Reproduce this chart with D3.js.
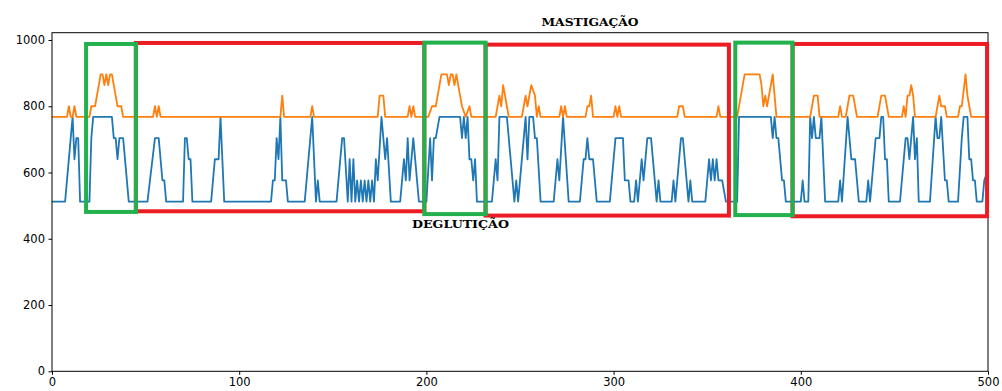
<!DOCTYPE html>
<html><head><meta charset="utf-8">
<script src="https://cdn.jsdelivr.net/npm/d3@7"></script>
<style>
html,body{margin:0;padding:0;background:#fff;}
svg{display:block;}
</style></head>
<body>
<svg id="chart" width="1002" height="391"></svg>
<script>
// Sensor channels: [sample index, level] at every change of slope
const channel1 = [
  [0,512],[7,512],[11,768],[12,640],[13,704],[14,704],[15,512],
  [20,512],[21,704],[22,768],[32,768],[33,704],[34,704],[35,640],[36,704],[38,704],[41,512],
  [51,512],[55,704],[57,704],[59,576],[60,576],[61,512],
  [70,512],[71,704],[72,704],[73,640],[74,640],[75,512],
  [85,512],[87,640],[89,640],[90,768],[92,512],
  [117,512],[118,576],[119,576],[120,704],[121,640],[122,768],[123,576],[125,576],[126,512],
  [135,512],[139,768],[141,512],[142,576],[143,512],
  [152,512],[155,704],[156,704],[158,512],[159,640],[160,512],[161,640],[162,512],[163,576],[164,512],
  [165,576],[166,512],[167,576],[168,512],[169,576],[170,512],[171,576],[172,512],[173,640],[174,576],
  [176,768],[178,640],[179,704],[181,512],
  [186,512],[188,640],[189,576],[190,704],[191,576],[193,704],[196,512],
  [200,512],[202,704],[203,576],[204,704],[205,704],[207,768],[218,768],[219,704],[220,768],[221,704],
  [222,768],[223,640],[224,640],[225,576],[226,640],[227,512],
  [235,512],[237,640],[238,576],[239,768],[243,768],[244,704],[247,512],[248,576],[249,512],
  [252,704],[253,768],[254,640],[255,768],[257,768],[258,704],[259,704],[261,512],
  [268,512],[270,640],[271,576],[273,768],[276,512],
  [282,512],[284,640],[285,640],[286,704],[287,640],[289,640],[291,512],
  [298,512],[301,704],[305,704],[306,576],[308,576],[309,512],[311,512],[312,576],[313,512],
  [315,640],[316,576],[318,704],[320,704],[321,640],[322,576],[323,512],[324,576],[325,512],
  [331,512],[332,576],[333,512],[336,704],[337,704],[338,640],[339,576],[340,512],[341,576],[342,512],
  [349,512],[351,640],[352,576],[353,640],[354,576],[355,640],[356,576],[358,576],[360,512],
  [366,512],[367,768],[384,768],[385,704],[386,768],[387,704],[388,704],[390,576],[391,576],[392,512],
  [400,512],[401,576],[402,512],[404,512],[405,768],[406,704],[407,768],[408,704],[410,704],[411,768],
  [412,640],[413,512],
  [420,512],[421,576],[422,512],[425,768],[426,704],[427,640],[429,640],[430,576],[431,512],
  [435,512],[436,576],[437,512],[439,640],[440,704],[442,704],[443,768],[444,768],[445,640],[446,640],[447,512],
  [453,512],[456,704],[457,704],[458,640],[460,768],[461,640],[462,704],[463,512],
  [469,512],[472,768],[473,704],[474,704],[475,768],[477,576],[478,576],[479,512],
  [484,512],[486,704],[487,768],[489,768],[490,640],[491,640],[492,576],[493,576],[494,512],
  [497,512],[498,576],[500,608]
];

const channel2 = [
  [0,768],[8,768],[9,800],[10,768],[11,768],[12,800],[13,768],
  [20,768],[21,800],[23,800],[24,832],[25,864],[26,896],[27,896],[28,864],[29,896],[30,864],
  [31,896],[32,896],[33,864],[34,832],[35,800],[37,800],[38,768],
  [54,768],[55,800],[56,768],[57,800],[58,768],
  [122,768],[123,832],[124,768],
  [138,768],[139,800],[140,768],
  [174,768],[175,832],[177,832],[178,768],
  [190,768],[191,800],[192,768],[193,800],[194,768],
  [201,768],[203,800],[205,800],[206,832],[207,864],[208,896],[211,896],[212,864],[213,896],[214,896],
  [215,864],[216,896],[217,864],[218,832],[219,800],[221,768],[223,800],[224,768],
  [237,768],[239,832],[240,800],[241,864],[242,832],[243,800],[244,768],
  [251,768],[252,800],[253,832],[254,800],[256,864],[258,832],[259,768],[260,800],[261,768],
  [271,768],[272,800],[273,768],[274,800],[275,768],
  [285,768],[286,800],[287,800],[288,832],[289,768],
  [300,768],[301,800],[302,768],[303,800],[304,768],
  [334,768],[335,800],[337,800],[338,768],
  [355,768],[356,800],[357,768],
  [366,768],[370,896],[378,896],[379,864],[380,800],[381,832],[382,800],[385,896],[387,768],
  [405,768],[406,800],[407,832],[409,832],[410,768],
  [420,768],[421,800],[422,768],
  [424,768],[425,800],[426,832],[428,832],[430,768],
  [441,768],[443,832],[445,832],[447,768],
  [454,768],[455,800],[456,768],[457,832],[458,832],[459,864],[460,832],[461,768],
  [472,768],[474,832],[475,800],[477,800],[478,768],
  [484,768],[485,800],[486,800],[488,896],[489,832],[490,800],[491,768],
  [500,768]
];

const xTicks = [0, 100, 200, 300, 400, 500];
const yTicks = [0, 200, 400, 600, 800, 1000];

// Marked phases: [start, end, low, high] in sample / level units
const chewPhases = [[44.8, 198.9, 483, 991], [231.6, 361.6, 470, 986], [395.6, 499.5, 468, 988]];
const swallowPhases = [[18.2, 44.8, 481, 988], [198.9, 231.6, 474.5, 992], [365, 395.6, 471.5, 992]];

const phaseLabels = [
  { text: "MASTIGAÇÃO", x: 261.5, y: 1043 },
  { text: "DEGLUTIÇÃO", x: 192.3, y: 434 }
];

const svg = d3.select("#chart");
svg.append("rect").attr("width", 1002).attr("height", 391).attr("fill", "#fff");

const x = d3.scaleLinear().domain([0, 500]).range([52, 988]);
const y = d3.scaleLinear().domain([0, 1022]).range([371.3, 32.7]);

const line = d3.line().x(d => x(d[0])).y(d => y(d[1]));

svg.append("path").datum(channel1)
  .attr("d", line).attr("fill", "none").attr("stroke", "#1f77b4")
  .attr("stroke-width", 1.8).attr("stroke-linejoin", "round");
svg.append("path").datum(channel2)
  .attr("d", line).attr("fill", "none").attr("stroke", "#ff7f0e")
  .attr("stroke-width", 1.8).attr("stroke-linejoin", "round");

// frame
svg.append("rect")
  .attr("x", x(0)).attr("y", y(1022))
  .attr("width", x(500) - x(0)).attr("height", y(0) - y(1022))
  .attr("fill", "none").attr("stroke", "#000").attr("stroke-width", 1);

// phase boxes
function boxes(data, color) {
  svg.append("g").selectAll("rect").data(data).join("rect")
    .attr("x", d => x(d[0])).attr("y", d => y(d[3]))
    .attr("width", d => x(d[1]) - x(d[0]))
    .attr("height", d => y(d[2]) - y(d[3]))
    .attr("fill", "none").attr("stroke", color).attr("stroke-width", 4);
}
boxes(chewPhases, "#ed1c24");
boxes(swallowPhases, "#22b14c");

// axes
const xAxis = d3.axisBottom(x).tickValues(xTicks).tickFormat(d3.format("d"))
  .tickSize(3.5).tickPadding(3.5).tickSizeOuter(0);
const yAxis = d3.axisLeft(y).tickValues(yTicks).tickFormat(d3.format("d"))
  .tickSize(3.5).tickPadding(3.5).tickSizeOuter(0);

const gx = svg.append("g").attr("transform", `translate(0,${y(0)})`).call(xAxis);
const gy = svg.append("g").attr("transform", `translate(${x(0)},0)`).call(yAxis);
[gx, gy].forEach(g => {
  g.select(".domain").remove();
  g.selectAll("line").attr("stroke", "#000").attr("stroke-width", 1);
  g.selectAll("text").attr("fill", "#000")
    .style("font-family", "'DejaVu Sans', sans-serif").style("font-size", "11.5px");
});

// phase labels
svg.append("g").selectAll("text").data(phaseLabels).join("text")
  .attr("x", d => x(d.x)).attr("y", d => y(d.y))
  .text(d => d.text)
  .attr("fill", "#000")
  .attr("textLength", 97).attr("lengthAdjust", "spacingAndGlyphs")
  .style("font-family", "'DejaVu Serif', serif").style("font-weight", "bold")
  .style("font-size", "11px");
</script>
</body></html>
